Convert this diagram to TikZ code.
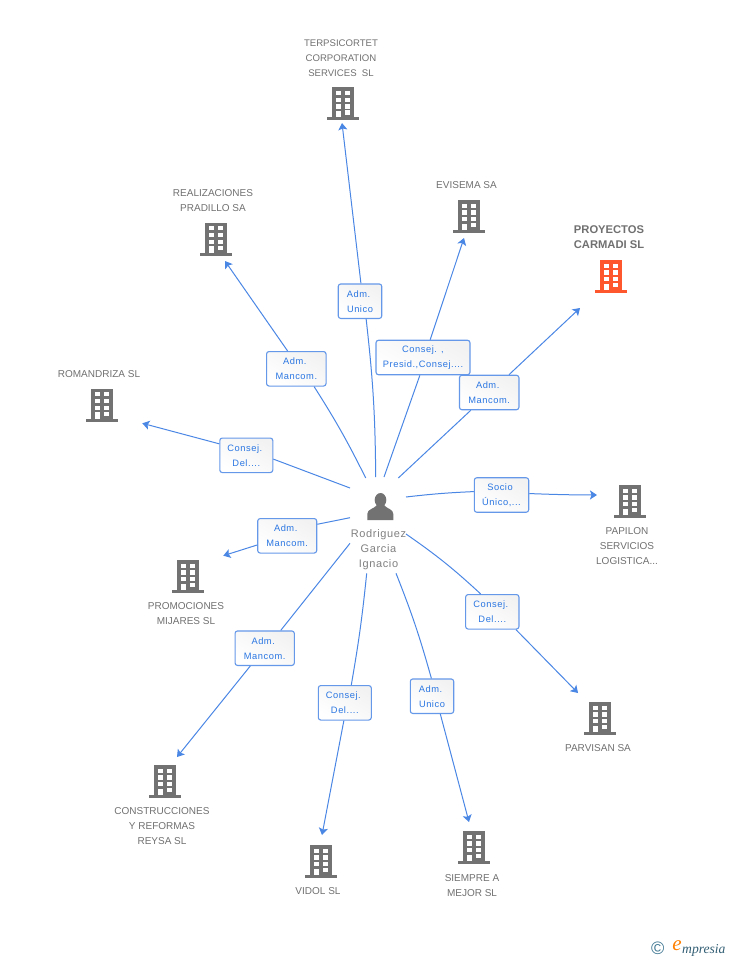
\documentclass[tikz,border=0pt]{standalone}
\usepackage{fontspec}
\setmainfont{Liberation Sans}
\newfontfamily\lblfont[LetterSpace=6]{Liberation Sans}
\newfontfamily\logofont{Liberation Serif}
\usetikzlibrary{shadings,arrows.meta}
\definecolor{linkb}{RGB}{74,134,228}
\definecolor{textb}{RGB}{42,118,226}
\definecolor{greyb}{RGB}{114,114,114}
\definecolor{orangeb}{RGB}{255,87,45}
\definecolor{greyt}{RGB}{112,112,112}
\definecolor{greyp}{RGB}{128,128,128}
\definecolor{logob}{RGB}{62,118,145}
\tikzset{
	linkline/.style={draw=linkb,line width=1pt},
	lblbox/.style={draw=linkb!85,line width=1.1pt,rounded corners=2.5pt,top color=black!5,bottom color=white,
		shading angle=-30,minimum height=34.5pt,inner sep=0pt,align=center,text=textb,
		font=\fontsize{9.3}{15}\selectfont\lblfont},
	firmname/.style={text=greyt,align=center,inner sep=0pt,font=\fontsize{10}{15}\selectfont},
	pics/building/.style={code={
		\fill[#1] (-11,-33) rectangle (11,-1);
		\fill[#1] (-16,-3) rectangle (16,0);
		\foreach \wy in {-29.5,-22.7,-16}
			{
				\fill[white] (-7,\wy) rectangle (-2.2,\wy+4.2);
				\fill[white] (2.3,\wy) rectangle (7.1,\wy+4.2);
			}
		\fill[white] (-7,-9.5) rectangle (-2.2,-3);
		\fill[white] (2.3,-10) rectangle (7.1,-5.7);
	}}
}
\begin{document}
\begin{tikzpicture}[>={Stealth[length=7pt,width=9pt,inset=1.5pt]},x=1pt,y=-1pt]

\useasboundingbox (0,0) rectangle (728,960);

% buildings
\foreach \nm/\x/\y/\col in {terpsi/343/120.5/greyb,evisema/469/233/greyb,carmadi/611/293/orangeb,
	pradillo/216/255.5/greyb,romandriza/102/421.5/greyb,papilon/630/518/greyb,mijares/188/593/greyb,
	parvisan/600/735/greyb,reysa/165/798/greyb,vidol/321/878/greyb,siempre/474/864/greyb}
	{
		\pic (\nm) at (\x,\y) {building=\col};
	}

% names
\node[firmname,font=\fontsize{9.6}{15}\selectfont] (nterpsi) at (341,58.5) {TERPSICORTET\\CORPORATION\\SERVICES\ \ SL};
\node[firmname] (nevisema) at (466.5,185) {EVISEMA SA};
\node[firmname,font=\fontsize{11.2}{15}\selectfont\bfseries] (ncarmadi) at (609,237) {PROYECTOS\\CARMADI SL};
\node[firmname] (npradillo) at (213,201) {REALIZACIONES\\PRADILLO SA};
\node[firmname] (nromandriza) at (99,374) {ROMANDRIZA SL};
\node[firmname] (npapilon) at (627,546.5) {PAPILON\\SERVICIOS\\LOGISTICA...};
\node[firmname] (nmijares) at (186,614) {PROMOCIONES\\MIJARES SL};
\node[firmname] (nparvisan) at (598,748) {PARVISAN SA};
\node[firmname] (nreysa) at (162,826.5) {CONSTRUCCIONES\\Y REFORMAS\\REYSA SL};
\node[firmname] (nvidol) at (318,891) {VIDOL SL};
\node[firmname] (nsiempre) at (472,885.5) {SIEMPRE A\\MEJOR SL};

% person
\fill[greyb] (380.5,500) ellipse (5.8 and 7);
\fill[greyb] (367.3,520) -- (367.3,514) .. controls (367.3,509) and (374,509) .. (377,505)
	-- (384,505) .. controls (387,509) and (393.3,509) .. (393.3,514) -- (393.3,520) -- cycle;
\node[text=greyp,align=center,inner sep=0pt,font=\fontsize{11}{15}\selectfont\lblfont] (person) at (378.5,550) {Rodriguez\\Garcia\\Ignacio};

% role boxes
\node[lblbox,minimum width=43.5pt] (bterpsi) at (360,301.2) {Adm.\hspace*{3pt}\\Unico};
\node[lblbox,minimum width=94pt] (bevisema) at (423,357.5) {Consej. ,\\Presid.,Consej....};
\node[lblbox,minimum width=59.5pt] (bcarmadi) at (489.2,392.5) {Adm.\hspace*{3pt}\\Mancom.};
\node[lblbox,minimum width=59.5pt] (bpradillo) at (296.3,368.8) {Adm.\hspace*{3pt}\\Mancom.};
\node[lblbox,minimum width=53pt] (bromandriza) at (246.3,455.3) {Consej.\hspace*{3pt}\\Del....};
\node[lblbox,minimum width=54.4pt] (bpapilon) at (501.5,495) {Socio\hspace*{3pt}\\Único,...};
\node[lblbox,minimum width=59pt] (bmijares) at (287.2,535.8) {Adm.\hspace*{3pt}\\Mancom.};
\node[lblbox,minimum width=53.3pt] (bparvisan) at (492.3,611.8) {Consej.\hspace*{3pt}\\Del....};
\node[lblbox,minimum width=59.3pt] (breysa) at (264.7,648.2) {Adm.\hspace*{3pt}\\Mancom.};
\node[lblbox,minimum width=53pt] (bvidol) at (344.8,702.8) {Consej.\hspace*{3pt}\\Del....};
\node[lblbox,minimum width=43.4pt] (bsiempre) at (432,696.2) {Adm.\hspace*{3pt}\\Unico};

% free ends of the links
\coordinate (sterpsi) at (375.7,477);
\coordinate (eterpsi) at (342,123);
\coordinate (sevisema) at (384,477);
\coordinate (eevisema) at (464,238);
\coordinate (scarmadi) at (398.3,478);
\coordinate (ecarmadi) at (580,308);
\coordinate (spradillo) at (365.7,478);
\coordinate (epradillo) at (225,261);
\coordinate (sromandriza) at (350,488);
\coordinate (eromandriza) at (142.3,423.3);
\coordinate (spapilon) at (406,497);
\coordinate (epapilon) at (597,495);
\coordinate (smijares) at (350,517.7);
\coordinate (emijares) at (223.3,555.7);
\coordinate (sparvisan) at (406,534);
\coordinate (eparvisan) at (578,693);
\coordinate (sreysa) at (350,543.3);
\coordinate (ereysa) at (177,757);
\coordinate (svidol) at (366.7,573.3);
\coordinate (evidol) at (322,835);
\coordinate (ssiempre) at (396,573.3);
\coordinate (esiempre) at (469,822);

% links
\draw[linkline] (sterpsi) to[bend right=3] (bterpsi.-71);
\draw[linkline,->] (bterpsi.87) to (eterpsi);
\draw[linkline] (sevisema) to (bevisema.-100);
\draw[linkline,->] (bevisema.68) to (eevisema);
\draw[linkline] (scarmadi) to (bcarmadi.-136.6);
\draw[linkline,->] (bcarmadi.42.6) to (ecarmadi);
\draw[linkline] (spradillo) to[bend right=3] (bpradillo.-45);
\draw[linkline,->] (bpradillo.116) to (epradillo);
\draw[linkline] (sromandriza) to (bromandriza.-8);
\draw[linkline,->] (bromandriza.157.3) to (eromandriza);
\draw[linkline] (spapilon) to[bend left=2] (bpapilon.173);
\draw[linkline,->] (bpapilon.3.6) to[bend right=1] (epapilon);
\draw[linkline] (smijares) to (bmijares.21.3);
\draw[linkline,->] (bmijares.197.3) to (emijares);
\draw[linkline] (sparvisan) to[bend left=4] (bparvisan.123.5);
\draw[linkline,->] (bparvisan.-37.6) to (eparvisan);
\draw[linkline] (sreysa) to (breysa.48.3);
\draw[linkline,->] (breysa.-129.3) to (ereysa);
\draw[linkline] (svidol) to[bend left=2] (bvidol.70);
\draw[linkline,->] (bvidol.-93.7) to (evidol);
\draw[linkline] (ssiempre) to[bend left=3] (bsiempre.92);
\draw[linkline,->] (bsiempre.-65) to (esiempre);

% logo
\node[text=logob,inner sep=0pt,font=\fontsize{18}{18}\selectfont] (copy) at (657.7,948.3) {©};
\node[text=orange,inner sep=0pt,font=\fontsize{21}{21}\selectfont\logofont\itshape] (logoe) at (677,946) {e};
\node[text=logob!80!black,inner sep=0pt,anchor=west,font=\fontsize{13.6}{14}\selectfont\logofont\itshape] (logo) at (682,950) {mpresia};

\end{tikzpicture}
\end{document}
